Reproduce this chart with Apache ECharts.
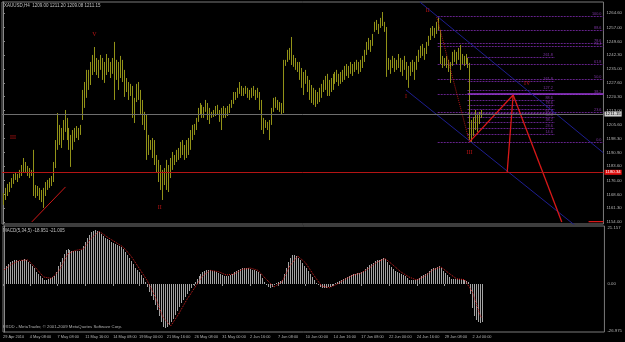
<!DOCTYPE html>
<html><head><meta charset="utf-8">
<script src="https://cdn.jsdelivr.net/npm/echarts@6/dist/echarts.min.js"></script>
<style>html,body{margin:0;padding:0;background:#000}#c{width:625px;height:342px}</style>
</head><body><div id="c"></div>
<script>
// ---- data ----
const barHigh = [
1169.4,1172.1,1174.2,1175.2,1177.3,1179.5,1180.5,1179.5,1181.6,1184.2,
1187.9,1185.8,1183.7,1182.6,1181.6,1192.2,1173.6,1173.1,1172.1,1171.0,
1172.1,1175.2,1176.3,1177.3,1178.4,1185.8,1197.4,1211.7,1205.4,1203.8,
1208.0,1213.3,1209.1,1203.8,1200.1,1202.7,1203.8,1204.8,1203.8,1205.4,
1223.9,1228.1,1234.5,1234.5,1238.7,1242.4,1246.6,1240.8,1239.8,1242.4,
1240.8,1238.7,1242.9,1240.8,1238.7,1240.8,1249.3,1239.8,1238.7,1241.9,
1239.8,1234.5,1230.2,1228.1,1227.1,1226.0,1219.7,1227.1,1228.1,1223.9,
1218.6,1212.3,1210.7,1200.1,1197.4,1198.5,1197.4,1189.5,1186.9,1184.2,
1181.6,1182.6,1186.9,1184.2,1187.9,1191.1,1189.5,1192.2,1193.2,1196.4,
1197.4,1194.8,1197.4,1198.5,1202.7,1205.4,1205.9,1209.1,1214.4,1217.0,
1216.0,1214.9,1218.6,1217.0,1214.4,1212.3,1213.3,1215.4,1216.0,1213.3,
1214.4,1215.4,1214.4,1215.4,1216.5,1218.6,1222.8,1222.8,1225.0,1228.1,
1226.0,1225.0,1226.0,1225.0,1223.9,1225.0,1226.0,1223.9,1225.0,1222.8,
1218.6,1209.1,1208.0,1207.0,1208.0,1214.4,1219.7,1220.2,1218.6,1217.5,
1217.0,1239.8,1239.8,1245.1,1246.1,1251.9,1242.4,1240.8,1238.7,1238.7,
1235.5,1233.4,1234.5,1231.3,1229.2,1226.5,1225.0,1223.9,1222.8,1225.0,
1227.1,1229.2,1231.3,1232.4,1229.2,1230.2,1232.4,1233.4,1234.5,1232.4,
1233.4,1234.5,1236.6,1237.6,1236.6,1238.7,1237.6,1238.7,1239.8,1238.7,
1239.8,1241.9,1245.1,1249.3,1251.4,1250.3,1253.5,1259.9,1260.9,1258.8,
1262.0,1265.1,1259.9,1257.2,1240.8,1239.8,1241.9,1240.8,1239.8,1242.9,
1240.8,1239.8,1241.9,1238.7,1236.6,1238.7,1239.8,1238.7,1241.9,1245.1,
1247.2,1248.2,1246.1,1249.3,1252.5,1256.7,1257.7,1256.7,1259.9,1262.5,
1255.6,1241.9,1240.8,1241.9,1239.8,1238.7,1244.0,1245.1,1244.0,1246.1,
1247.7,1242.9,1241.9,1242.9,1240.8,1238.2,1208.0,1209.6,1213.3,1210.7,
1212.3,1213.3];
const barLow = [
1163.1,1165.7,1167.8,1169.9,1172.1,1174.2,1176.3,1175.2,1177.3,1178.4,
1180.5,1180.5,1178.4,1177.3,1178.4,1167.8,1166.8,1167.8,1165.7,1164.6,
1161.5,1167.8,1171.0,1172.1,1173.1,1175.2,1182.6,1192.2,1194.8,1193.2,
1197.4,1201.7,1197.4,1192.2,1183.2,1192.2,1196.4,1198.5,1197.4,1200.1,
1208.0,1214.4,1219.7,1223.9,1226.5,1231.8,1233.4,1231.8,1230.2,1234.5,
1229.2,1227.6,1231.8,1233.4,1230.2,1232.4,1218.6,1229.2,1223.9,1230.2,
1228.1,1220.2,1222.8,1218.6,1220.7,1209.1,1206.4,1217.5,1218.6,1210.7,
1205.4,1202.7,1186.9,1189.5,1192.2,1187.9,1184.2,1180.0,1175.2,1171.0,
1165.7,1173.6,1171.0,1169.9,1177.3,1181.6,1184.2,1185.8,1186.9,1187.9,
1189.5,1186.9,1187.9,1189.5,1192.2,1197.4,1200.1,1202.7,1207.0,1210.7,
1209.1,1209.1,1212.3,1208.0,1205.9,1209.1,1209.6,1210.1,1210.7,1207.0,
1202.7,1209.1,1209.1,1210.1,1211.7,1214.4,1216.5,1218.6,1219.7,1221.8,
1220.7,1220.7,1221.8,1219.7,1218.6,1219.7,1220.7,1218.6,1219.7,1213.3,
1202.7,1200.6,1203.8,1202.7,1197.4,1205.4,1212.3,1214.4,1213.3,1212.3,
1210.7,1211.7,1236.6,1238.7,1239.8,1237.1,1236.1,1234.5,1233.4,1229.2,
1225.0,1221.2,1227.1,1222.8,1218.6,1217.0,1216.0,1214.9,1216.5,1217.5,
1219.7,1222.8,1223.9,1220.7,1220.7,1222.8,1223.9,1227.1,1228.1,1226.0,
1227.1,1228.1,1229.2,1231.3,1230.2,1232.4,1231.3,1233.4,1234.5,1232.4,
1233.4,1235.5,1238.7,1242.4,1245.1,1244.0,1247.2,1254.6,1255.6,1253.5,
1256.7,1257.7,1254.6,1230.8,1234.5,1232.4,1235.5,1233.4,1234.5,1235.5,
1233.4,1231.3,1234.5,1229.2,1225.0,1231.3,1233.4,1229.2,1234.5,1238.7,
1240.8,1241.9,1239.8,1242.9,1247.2,1250.3,1252.5,1251.4,1253.5,1255.6,
1237.6,1235.5,1236.6,1235.5,1233.4,1227.6,1236.6,1238.7,1237.6,1239.8,
1234.5,1237.6,1236.6,1237.6,1235.5,1197.4,1196.4,1199.6,1202.7,1201.7,
1205.9,1209.1];
const macdHist = [
8,9,10,11,11.5,12,12,11.5,11.5,12,
12.5,12,11,10,9,8,6,5,4,3,
2,2,2.5,3,3.5,4,6,9,11,13,
15,17,17.5,17,16.5,16.5,16.5,16.5,16.5,17,
19,21,23,24.5,26,26.5,27,26.5,26,25,
24,23,22.5,22,21,20.5,20,19.5,19,18.5,
17.5,16,14.5,13,11.5,10,8,7,6,4.5,
3,1,-1.5,-4,-6,-8,-10.5,-13,-16,-19,
-21.5,-22,-21.5,-20.5,-19,-17.5,-15.5,-13.5,-11.5,-9.5,
-8,-6.5,-5,-3.5,-2,-0.5,1,2.5,4,5,
6,6.5,7,7,7,6.5,6.5,6,5.5,5,
4.5,4,4,4,4.5,5,6,6.5,7,7.5,
8,8,8,8,7.5,7,7,6.5,6,5,
3,1,-0.5,-1.5,-2,-1.5,-0.5,0.5,1,1.5,
2,5,8,11,13,14.5,14.5,14,13,12,
10.5,9,8,6.5,5,3.5,2,0.5,-0.5,-1.5,
-2,-2,-2,-1.5,-1.5,-1,-0.5,0.5,1,1.5,
2,2.5,3,3.5,4,4.5,5,5,5.5,5.5,
6,6.5,7.5,8.5,9.5,10,10.5,11.5,12,12,
12.5,13,12.5,11,9.5,8.5,7.5,6.5,6,5.5,
5,4.5,4,3,2,2,2,2,2.5,3,
4,4.5,5,5.5,6.5,7.5,8,8,8.5,9,
8,6.5,5.5,4.5,3.5,2.5,2.5,2.5,2.5,2.5,
2.5,2,2,1.5,1,-5,-12,-16,-18,-19,
-19.5,-19];
const macdSignal = [[0,7],[4,10],[8,11.8],[12,12],[16,8],[20,3.5],[24,2.8],[28,7],[32,15],[36,16.8],[40,17.5],[44,23],[48,26.3],[52,23.5],[56,21],[60,18.5],[64,14],[68,8],[72,2],[76,-6],[80,-16.5],[84,-21],[88,-15],[92,-8],[96,-2],[100,4],[104,6.8],[108,6.2],[112,4.5],[116,5],[120,7.3],[124,8],[128,6.8],[132,2.5],[136,-1.5],[140,1],[144,9],[148,14],[152,10.5],[156,4.5],[160,-1],[164,-1.8],[168,0],[172,2.5],[176,4.5],[180,5.5],[184,8],[188,11],[192,12.7],[196,9.5],[200,6],[204,3.5],[208,2],[212,4],[216,7],[220,8.6],[224,5.5],[228,2.6],[232,2.2],[236,-4],[240,-16],[241,-17]];

const priceTicks = [1154.00,1161.30,1168.60,1176.00,1183.60,1190.90,1198.30,1205.60,1213.00,1220.30,1227.60,1235.00,1242.30,1249.60,1257.00,1264.60];
const macdTickVals = [28.0, 0, -23.3];
const macdTickText = ['21.157','0.00','-26.975'];
const xTickIdx = [-0.5,13,27,41,55,68,82,96,110,124,138,152,166,180,194,208,222,236];
const xTickText = ['29 Apr 2010','4 May 08:00','7 May 08:00','11 May 16:00','14 May 08:00','19 May 00:00','21 May 16:00','26 May 08:00','31 May 00:00','2 Jun 16:00','7 Jun 08:00','10 Jun 00:00','14 Jun 16:00','17 Jun 08:00','22 Jun 00:00','24 Jun 16:00','29 Jun 08:00','2 Jul 00:00'];

const bidPrice = 1211.15;
const redLevel = 1180.34;

// drawn objects (bar index, price)
const trendLine = [[14.5,1154.1],[31.5,1172.6]];
const channelUpper = [[210,1270.4],[302.5,1190.6]];
const channelLower = [[203,1223.9],[302.5,1140.2]];
const dottedWave = [[218.5,1262.5],[235,1196.4]];
const projA = [[235,1196.4],[257,1221.2],[254,1180.5]];
const projB = [[257,1221.2],[281.5,1154.1]];
const projC = [[295,1154.3],[302.5,1154.3]];

const fib1Levels = [1263.0,1255.4,1248.7,1247.3,1237.6,1229.7,1221.8,1212.1,1196.4];
const fib1Labels = ['100.0','88.6','78.6','76.4','61.8','50.0','38.2','23.6','0.0'];
const fib1Range = [219, 302.5];
const fib2Levels = [1241.3,1228.6,1223.9,1218.6,1216.0,1213.8,1211.7,1209.6,1207.0,1203.8,1200.6];
const fib2Labels = ['261.8','161.8','127.2','88.6','78.6','70.7','61.8','50.0','38.2','23.6','14.6'];
const fib2Range = [234, 278];
const fibBright = [[234,1221.8],[302.5,1221.8]];

const waveText = ['III','V','II','I','II','III','IV'];
const waveIdx = [5,46,79,203,214,235,264];
const wavePrice = [1199.0,1253.0,1162.0,1220.7,1266.2,1191.1,1227.1];

// ---- chart ----
const FONT = 'Liberation Sans';
const LBL = '#b4b4b4';
const chart = echarts.init(document.getElementById('c'));

function lineSeries(data, color, width, type, extra) {
  return Object.assign({
    type: 'line', xAxisIndex: 0, yAxisIndex: 0, data: data, showSymbol: false, symbol: 'none',
    silent: true, animation: false, clip: true,
    lineStyle: { color: color, width: width, type: type }
  }, extra || {});
}

function fibSeries(levels, labels, range) {
  return {
    type: 'custom', xAxisIndex: 0, yAxisIndex: 0, clip: true, silent: true, animation: false,
    data: levels.map(v => [range[0], range[1], v]),
    encode: { x: [0, 1], y: 2 },
    renderItem: (p, api) => {
      const a = api.coord([api.value(0), api.value(2)]);
      const b = api.coord([api.value(1), api.value(2)]);
      const y = Math.round(a[1]) + 0.5;
      return { type: 'group', children: [
        { type: 'line', shape: { x1: a[0], y1: y, x2: b[0], y2: y },
          style: { stroke: '#64228a', lineWidth: 1, lineDash: [2, 1] } },
        { type: 'text', x: b[0] - 2, y: y - 1,
          style: { text: labels[p.dataIndex], fill: '#7e34a4', fontSize: 3.8, fontFamily: FONT,
                   align: 'right', verticalAlign: 'bottom' } }
      ]};
    }
  };
}

const option = {
  backgroundColor: '#000000',
  animation: false,
  grid: [
    { left: 2, top: 2, width: 606, height: 222, show: true, borderColor: '#7a7a7a', borderWidth: 1 },
    { left: 2, top: 226, width: 606, height: 106, show: true, borderColor: '#7a7a7a', borderWidth: 1 }
  ],
  xAxis: [
    { type: 'value', gridIndex: 0, min: -0.5, max: 302.5, show: false },
    { type: 'value', gridIndex: 1, min: -0.5, max: 302.5,
      axisLine: { show: false }, splitLine: { show: false },
      axisTick: { show: true, customValues: xTickIdx, length: 2, lineStyle: { color: '#8a8a8a' } },
      axisLabel: { customValues: xTickIdx, formatter: v => xTickText[xTickIdx.indexOf(v)] || '',
                   align: 'left', fontSize: 3.9, fontFamily: FONT, color: LBL, margin: 3 } }
  ],
  yAxis: [
    { type: 'value', gridIndex: 0, position: 'right', min: 1153.0, max: 1270.4,
      splitLine: { show: false },
      axisLine: { show: true, lineStyle: { color: '#8a8a8a' } },
      axisTick: { show: true, customValues: priceTicks, length: 2, lineStyle: { color: '#8a8a8a' } },
      axisLabel: { customValues: priceTicks, formatter: v => v.toFixed(2), fontSize: 4.3,
                   fontFamily: FONT, color: LBL, margin: 3 } },
    { type: 'value', gridIndex: 1, position: 'right', min: -24, max: 29,
      splitLine: { show: false },
      axisLine: { show: true, lineStyle: { color: '#8a8a8a' } },
      axisTick: { show: false },
      axisLabel: { customValues: macdTickVals, formatter: v => macdTickText[macdTickVals.indexOf(v)] || '',
                   fontSize: 4.3, fontFamily: FONT, color: LBL, margin: 3 } }
  ],
  graphic: [
    { type: 'text', left: 4, top: 3, silent: true,
      style: { text: 'XAUUSD,H4  1209.00 1211.20 1209.08 1211.15', fill: '#c0c0c0', fontSize: 4.5, fontFamily: FONT } },
    { type: 'text', left: 3, top: 228, silent: true,
      style: { text: 'MACD(5,34,5) -18.951 -21.005', fill: '#c0c0c0', fontSize: 4.5, fontFamily: FONT } },
    { type: 'text', left: 3, top: 325, silent: true,
      style: { text: 'FXDD - MetaTrader, © 2001-2009 MetaQuotes Software Corp.', fill: '#b0b0b0', fontSize: 4.3, fontFamily: FONT } }
  ],
  series: [
    lineSeries(trendLine, '#d01818', 1, 'solid', {
      markLine: {
        silent: true, symbol: 'none', animation: false,
        data: [
          { yAxis: bidPrice, lineStyle: { color: '#6e6e6e', width: 1, type: 'solid' },
            label: { show: true, position: 'end', formatter: bidPrice.toFixed(2), color: '#000',
                     backgroundColor: '#d0d0d0', fontSize: 4.3, fontFamily: FONT, padding: [1, 1, 0, 1], distance: 1 } },
          { yAxis: redLevel, lineStyle: { color: '#b41414', width: 1, type: 'solid' },
            label: { show: true, position: 'end', formatter: redLevel.toFixed(2), color: '#fff',
                     backgroundColor: '#e01010', fontSize: 4.3, fontFamily: FONT, padding: [1, 1, 0, 1], distance: 1 } }
        ]
      }
    }),
    fibSeries(fib1Levels, fib1Labels, fib1Range),
    fibSeries(fib2Levels, fib2Labels, fib2Range),
    lineSeries(fibBright, '#9a3ad6', 1.5, 'solid'),
    lineSeries(channelUpper, '#1e1e90', 1, 'solid'),
    lineSeries(channelLower, '#1e1e90', 1, 'solid'),
    {
      type: 'custom', xAxisIndex: 0, yAxisIndex: 0, clip: true, silent: true, animation: false,
      data: barHigh.map((h, i) => [i, h, barLow[i]]),
      encode: { x: 0, y: [1, 2] },
      renderItem: (p, api) => {
        const a = api.coord([api.value(0), api.value(1)]);
        const b = api.coord([api.value(0), api.value(2)]);
        const x = Math.round(a[0]) + 0.5;
        return { type: 'line', shape: { x1: x, y1: a[1], x2: x, y2: b[1] },
                 style: { stroke: '#929218', lineWidth: 1 } };
      }
    },
    lineSeries(dottedWave, '#b01414', 1, 'dotted'),
    lineSeries(projA, '#d81818', 1.3, 'solid'),
    lineSeries(projB, '#d81818', 1.3, 'solid'),
    lineSeries(projC, '#d81818', 1.3, 'solid'),
    {
      type: 'custom', xAxisIndex: 0, yAxisIndex: 0, clip: false, silent: true, animation: false,
      data: waveIdx.map((x, i) => [x, wavePrice[i]]),
      encode: { x: 0, y: 1 },
      renderItem: (p, api) => {
        const c = api.coord([api.value(0), api.value(1)]);
        return { type: 'text', x: c[0], y: c[1],
                 style: { text: waveText[p.dataIndex], fill: '#b81414', fontSize: 6, fontFamily: 'Liberation Serif',
                          align: 'center', verticalAlign: 'middle' } };
      }
    },
    {
      type: 'custom', xAxisIndex: 1, yAxisIndex: 1, clip: true, silent: true, animation: false,
      data: macdHist.map((v, i) => [i, v]),
      encode: { x: 0, y: 1 },
      renderItem: (p, api) => {
        const a = api.coord([api.value(0), 0]);
        const b = api.coord([api.value(0), api.value(1)]);
        const x = Math.round(a[0]) + 0.5;
        return { type: 'line', shape: { x1: x, y1: a[1], x2: x, y2: b[1] },
                 style: { stroke: '#a4a4a4', lineWidth: 1 } };
      }
    },
    {
      type: 'line', xAxisIndex: 1, yAxisIndex: 1, data: macdSignal, showSymbol: false, symbol: 'none',
      silent: true, animation: false, lineStyle: { color: '#d02020', width: 1, type: 'dotted' }
    }
  ]
};
chart.setOption(option);
</script>
</body></html>
